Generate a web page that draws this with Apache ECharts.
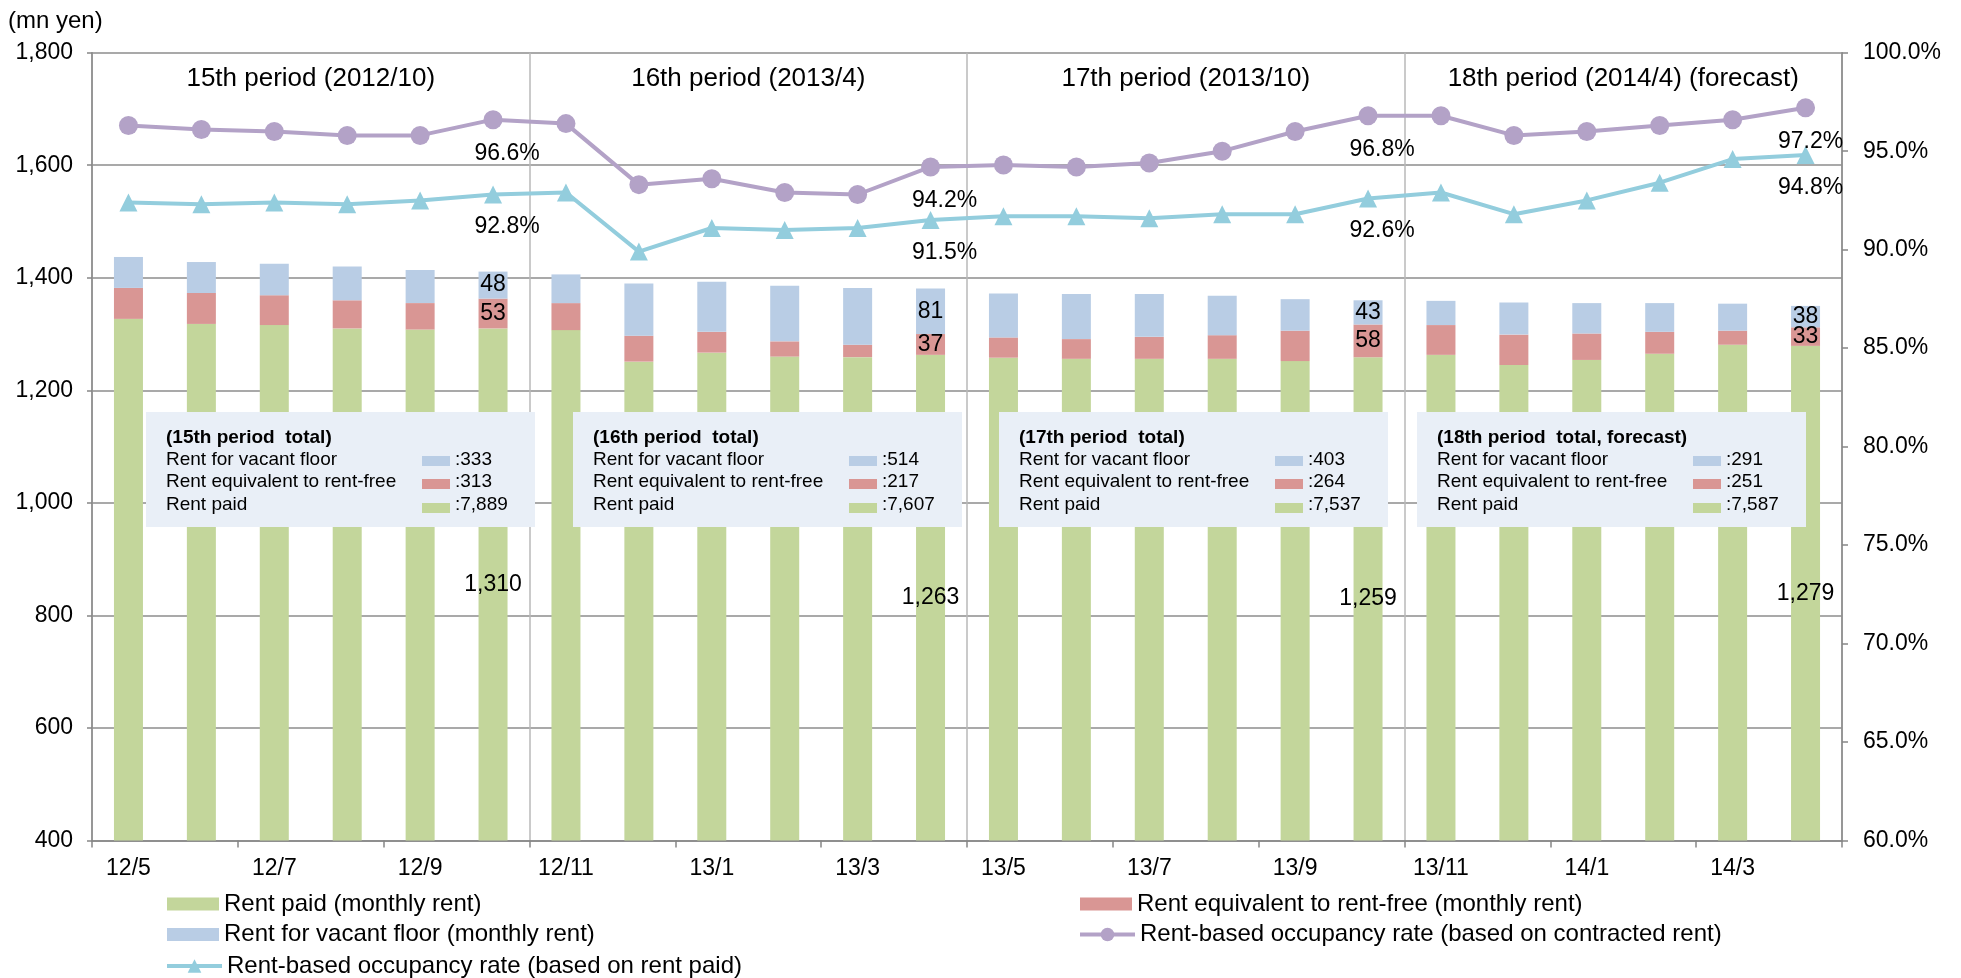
<!DOCTYPE html>
<html>
<head>
<meta charset="utf-8">
<title>Monthly rent and occupancy</title>
<script src="https://cdn.jsdelivr.net/npm/echarts@6/dist/echarts.min.js"></script>
<style>
  html, body { margin: 0; padding: 0; background: #fff; }
  #chart { width: 1961px; height: 978px; }
</style>
</head>
<body>
<div id="chart"></div>
<script>
// months 12/5 .. 14/4
const months = ['12/5', '12/6', '12/7', '12/8', '12/9', '12/10', '12/11', '12/12',
  '13/1', '13/2', '13/3', '13/4', '13/5', '13/6', '13/7', '13/8', '13/9', '13/10',
  '13/11', '13/12', '14/1', '14/2', '14/3', '14/4'];

// mn yen, monthly
const rentPaid = [1327, 1318, 1316, 1310, 1308, 1310, 1307, 1251, 1267, 1260, 1259, 1263,
  1258, 1256, 1256, 1256, 1252, 1259, 1263, 1245, 1254, 1265, 1281, 1279];
const rentFree = [55, 55, 53, 50, 47, 53, 48, 46, 37, 27, 22, 37,
  36, 35, 39, 42, 54, 58, 53, 54, 47, 39, 25, 33];
const rentVacant = [55, 55, 56, 60, 59, 48, 51, 93, 89, 99, 101, 81,
  78, 80, 76, 70, 56, 43, 43, 57, 54, 51, 48, 38];

// occupancy rate, %
const occContracted = [96.3, 96.1, 96.0, 95.8, 95.8, 96.6, 96.4, 93.3, 93.6, 92.9, 92.8, 94.2,
  94.3, 94.2, 94.4, 95.0, 96.0, 96.8, 96.8, 95.8, 96.0, 96.3, 96.6, 97.2];
const occPaid = [92.4, 92.3, 92.4, 92.3, 92.5, 92.8, 92.9, 89.9, 91.1, 91.0, 91.1, 91.5,
  91.7, 91.7, 91.6, 91.8, 91.8, 92.6, 92.9, 91.8, 92.5, 93.4, 94.6, 94.8];

// period headers and totals
const periodNames = ['15th period (2012/10)', '16th period (2013/4)', '17th period (2013/10)', '18th period (2014/4) (forecast)'];
const boxTitles = ['(15th period  total)', '(16th period  total)', '(17th period  total)', '(18th period  total, forecast)'];
const totalVacant = [333, 514, 403, 291];
const totalFree = [313, 217, 264, 251];
const totalPaid = [7889, 7607, 7537, 7587];

const FONT = '"Liberation Sans", Arial, sans-serif';
const GREEN = '#c3d69b', RED = '#d99694', BLUE = '#b9cde5';
const PURPLE = '#b3a2c7', CYAN = '#93cddd';

const chart = echarts.init(document.getElementById('chart'));

const fmt = v => v.toLocaleString('en-US');

// label only the last month of each period
const barData = (arr) => arr.map((v, i) => i % 6 === 5 ? { value: v, label: { show: true } } : v);
const lineData = (arr) => arr.map((v, i) => i % 6 === 5
  ? { value: v, label: { show: true, offset: [i === 23 ? 5 : 14, 0] } } : v);

// summary boxes drawn over the bars
const boxLeft = [146, 573, 999, 1417];
const boxes = [];
boxLeft.forEach((x, k) => {
  const rows = [
    ['Rent for vacant floor', BLUE, ':' + fmt(totalVacant[k])],
    ['Rent equivalent to rent-free', RED, ':' + fmt(totalFree[k])],
    ['Rent paid', GREEN, ':' + fmt(totalPaid[k])]
  ];
  const top = 412;
  const rowY = [48, 70, 93];
  boxes.push({ type: 'rect', z: 100, shape: { x: x, y: top, width: 389, height: 115 }, style: { fill: '#e9eff7' } });
  boxes.push({ type: 'text', z: 101, x: x + 20, y: top + 26, style: { text: boxTitles[k], font: 'bold 19px ' + FONT, fill: '#000', verticalAlign: 'middle' } });
  rows.forEach((r, j) => {
    boxes.push({ type: 'text', z: 101, x: x + 20, y: top + rowY[j], style: { text: r[0], font: '19px ' + FONT, fill: '#000', verticalAlign: 'middle' } });
    boxes.push({ type: 'rect', z: 101, shape: { x: x + 276, y: top + rowY[j] - 4 + j, width: 28, height: 10 }, style: { fill: r[1] } });
    boxes.push({ type: 'text', z: 101, x: x + 309, y: top + rowY[j], style: { text: r[2], font: '19px ' + FONT, fill: '#000', verticalAlign: 'middle' } });
  });
});

const legendText = { fontSize: 24, color: '#000', fontFamily: FONT, lineHeight: 24 };
const barLegend = (left, top, names) => ({
  orient: 'vertical', left: left, top: top, padding: 0, itemGap: 6.5,
  itemWidth: 52, itemHeight: 13, textStyle: legendText,
  data: names.map(n => ({ name: n, icon: 'rect' }))
});
const lineLegend = (left, top, names) => ({
  orient: 'vertical', left: left, top: top, padding: 0,
  itemWidth: 55, itemHeight: 17, textStyle: legendText,
  lineStyle: { width: 4 },
  data: names
});

const option = {
  textStyle: { fontFamily: FONT, color: '#000' },
  animation: false,
  title: {
    text: '(mn yen)', left: 8, top: 9, padding: 0,
    textStyle: { fontSize: 24, fontWeight: 'normal', color: '#000', fontFamily: FONT }
  },
  grid: { left: 92, right: 119, top: 52.7, bottom: 137.5 },
  legend: [
    barLegend(167, 892, ['Rent paid (monthly rent)', 'Rent for vacant floor (monthly rent)']),
    lineLegend(165, 954, ['Rent-based occupancy rate (based on rent paid)']),
    barLegend(1080, 892, ['Rent equivalent to rent-free (monthly rent)']),
    lineLegend(1078, 922.5, ['Rent-based occupancy rate (based on contracted rent)'])
  ],
  xAxis: {
    type: 'category',
    data: months,
    axisLine: { lineStyle: { color: '#868686', width: 1.5 } },
    axisTick: { show: true, interval: 1, length: 7, lineStyle: { color: '#868686', width: 1.5 } },
    axisLabel: { interval: 1, fontSize: 23, color: '#000', margin: 17 },
    splitLine: { show: true, interval: 5, lineStyle: { color: '#b8b8b8', width: 1.5 } }
  },
  yAxis: [
    {
      type: 'value', min: 400, max: 1800, interval: 200,
      axisLine: { show: true, lineStyle: { color: '#868686', width: 1.5 } },
      axisTick: { show: true, length: 5, lineStyle: { color: '#868686', width: 1.5 } },
      axisLabel: { fontSize: 23, color: '#000', margin: 19, formatter: v => fmt(v) },
      splitLine: { show: true, lineStyle: { color: '#8c8c8c', width: 1.5 } }
    },
    {
      type: 'value', min: 60, max: 100, interval: 5,
      axisLine: { show: true, lineStyle: { color: '#868686', width: 1.5 } },
      axisTick: { show: true, length: 6, lineStyle: { color: '#868686', width: 1.5 } },
      axisLabel: { fontSize: 23, color: '#000', margin: 21, formatter: v => v.toFixed(1) + '%' },
      splitLine: { show: false }
    }
  ],
  series: [
    {
      name: 'Rent paid (monthly rent)', type: 'bar', stack: 'rent', barWidth: 29,
      itemStyle: { color: GREEN },
      label: { show: false, position: 'inside', fontSize: 23, color: '#000', formatter: p => fmt(p.value) },
      data: barData(rentPaid),
      markArea: {
        silent: true,
        itemStyle: { color: 'rgba(0,0,0,0)' },
        label: { position: 'insideTop', distance: 13, fontSize: 26, color: '#000', fontFamily: FONT },
        data: periodNames.map((n, k) => [{ name: n, xAxis: months[k * 6] }, { xAxis: months[k * 6 + 5] }])
      }
    },
    {
      name: 'Rent equivalent to rent-free (monthly rent)', type: 'bar', stack: 'rent', barWidth: 29,
      itemStyle: { color: RED },
      label: { show: false, position: 'inside', fontSize: 23, color: '#000' },
      data: barData(rentFree)
    },
    {
      name: 'Rent for vacant floor (monthly rent)', type: 'bar', stack: 'rent', barWidth: 29,
      itemStyle: { color: BLUE },
      label: { show: false, position: 'inside', fontSize: 23, color: '#000' },
      data: barData(rentVacant)
    },
    {
      name: 'Rent-based occupancy rate (based on contracted rent)', type: 'line', yAxisIndex: 1,
      symbol: 'circle', symbolSize: 19, z: 5,
      lineStyle: { color: PURPLE, width: 4 },
      itemStyle: { color: PURPLE },
      label: { show: false, position: 'bottom', distance: 13, fontSize: 23, color: '#000', formatter: p => p.value.toFixed(1) + '%' },
      data: lineData(occContracted)
    },
    {
      name: 'Rent-based occupancy rate (based on rent paid)', type: 'line', yAxisIndex: 1,
      symbol: 'triangle', symbolSize: 18, z: 5,
      lineStyle: { color: CYAN, width: 4 },
      itemStyle: { color: CYAN },
      label: { show: false, position: 'bottom', distance: 12, fontSize: 23, color: '#000', formatter: p => p.value.toFixed(1) + '%' },
      data: lineData(occPaid)
    }
  ],
  graphic: boxes
};

chart.setOption(option);
</script>
</body>
</html>
